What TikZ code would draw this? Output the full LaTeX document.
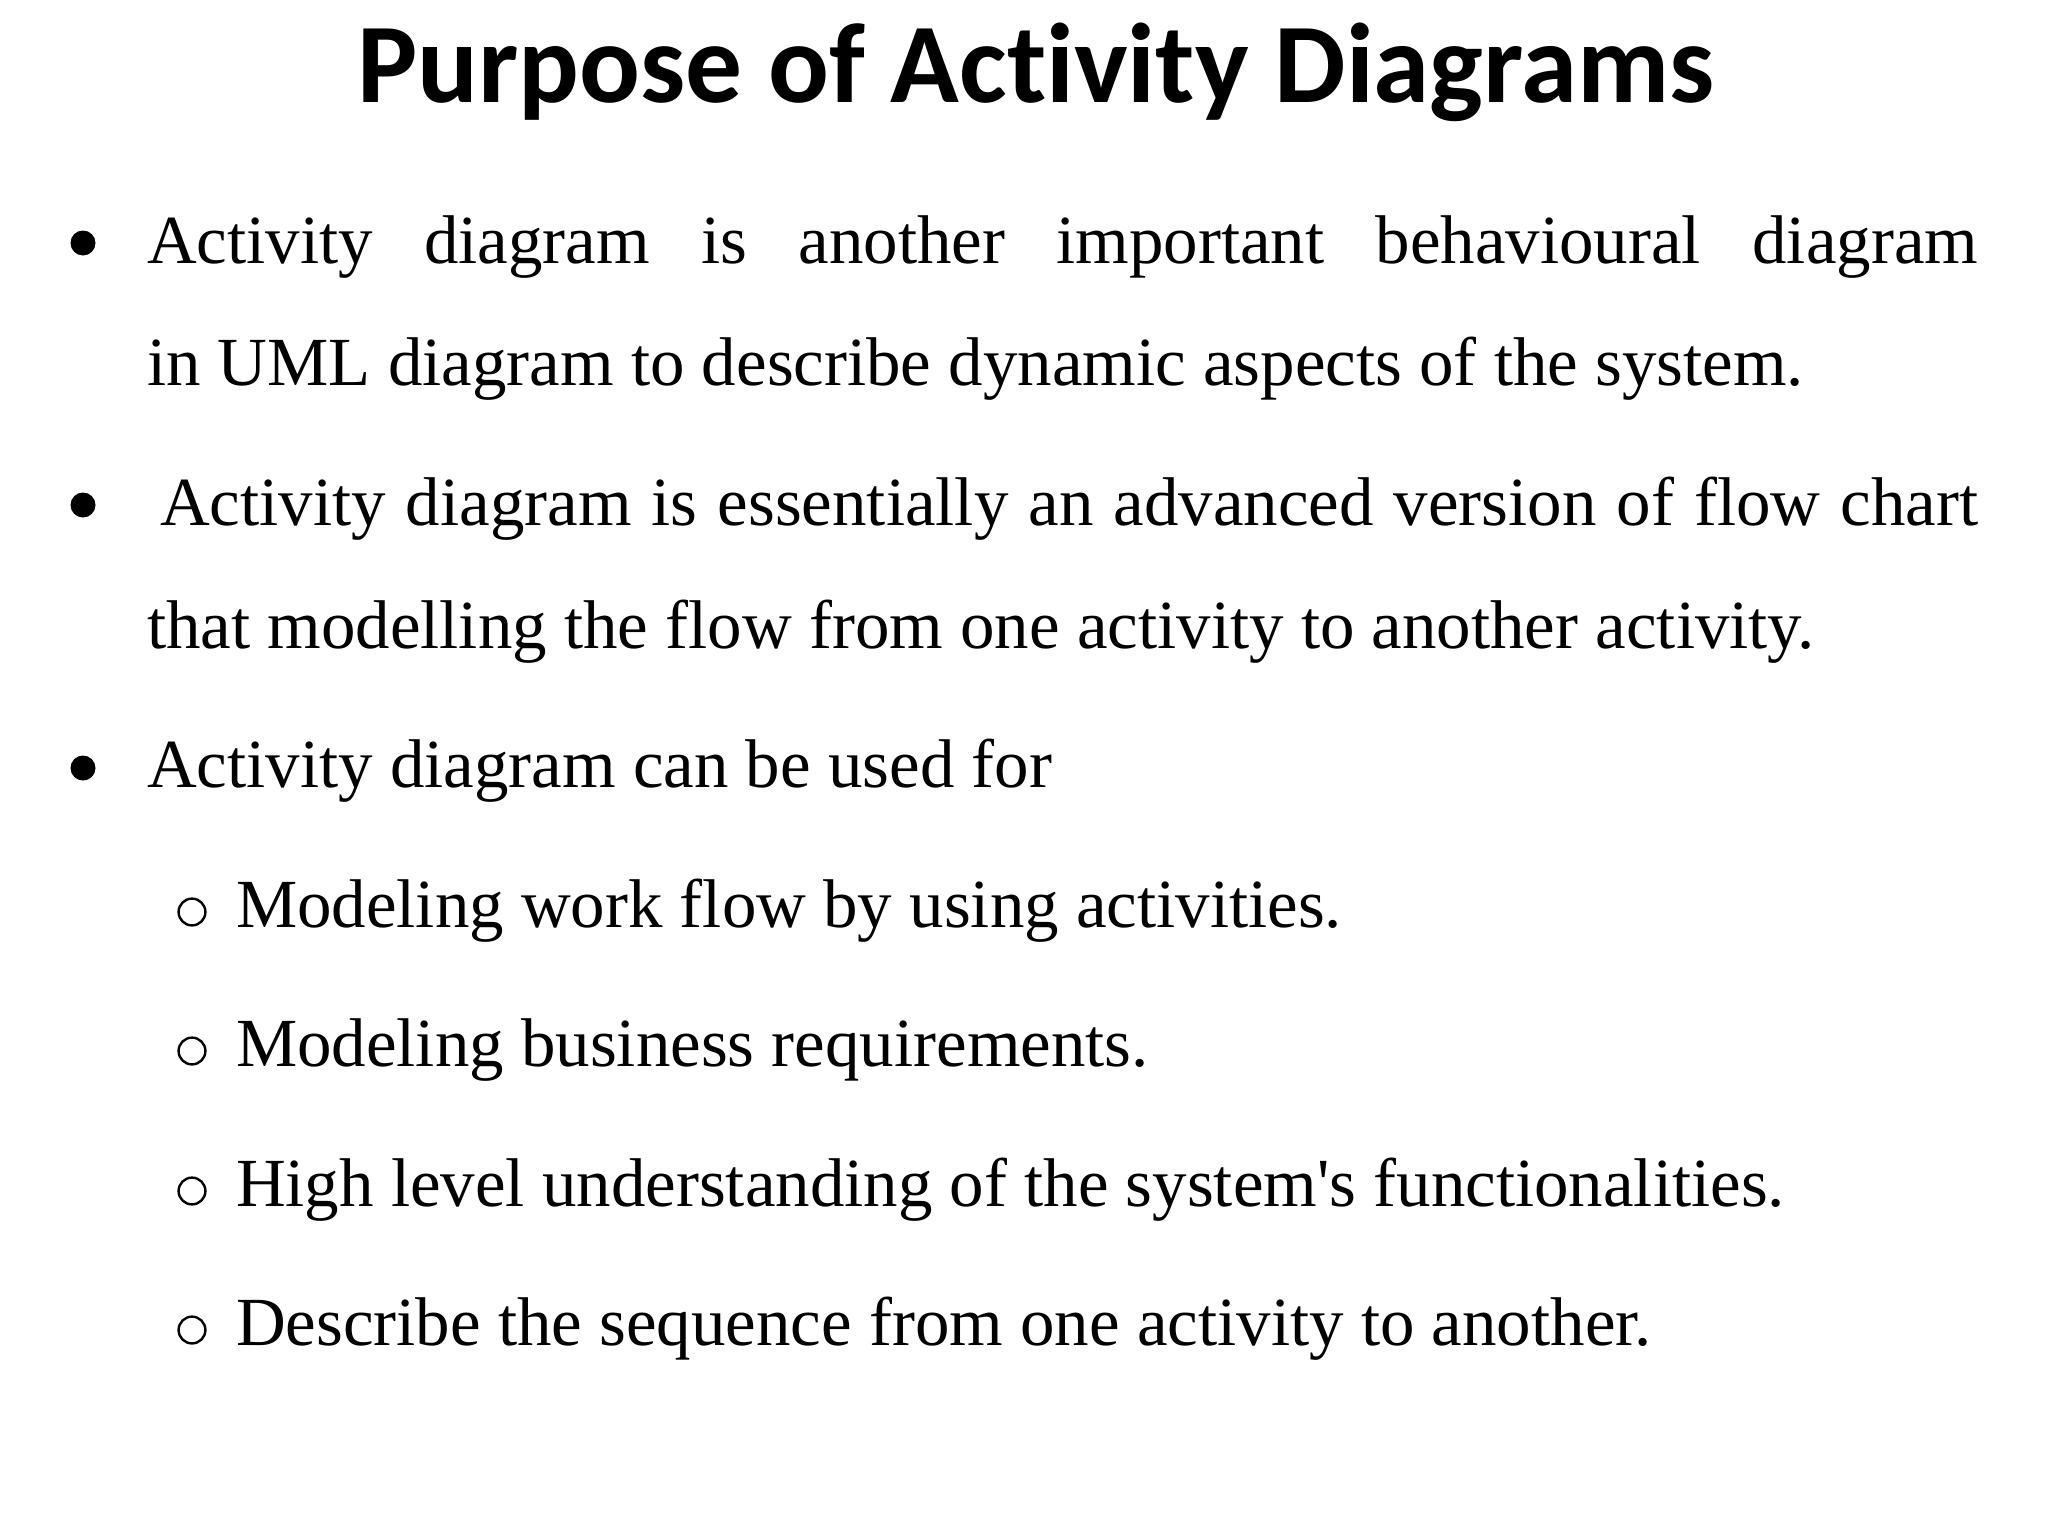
\documentclass[tikz,border=0pt]{standalone}
\usepackage{fontspec}
\newfontfamily\bodyfont[Ligatures=NoCommon]{Liberation Serif}
\newfontfamily\titlefont[Ligatures=NoCommon]{Carlito}
\begin{document}
\begin{tikzpicture}[x=0.5pt,y=-0.5pt,
  body/.style={anchor=base west,inner sep=0pt,outer sep=0pt,font=\bodyfont\fontsize{34.45pt}{40pt}\selectfont},
  dot/.style={circle,fill=black,inner sep=0pt,outer sep=0pt,minimum size=12.5pt},
  ring/.style={circle,draw=black,line width=1.2pt,inner sep=0pt,outer sep=0pt,minimum width=12.6pt,minimum height=13.4pt},
  heading/.style={anchor=base,inner sep=0pt,outer sep=0pt,font=\titlefont\bfseries\fontsize{56.7pt}{60pt}\selectfont}]
\fill[white] (0,0) rectangle (2048,1536);
\useasboundingbox (0,0) rectangle (2048,1536);
\node[heading] (title) at (1036,103) {Purpose of Activity Diagrams};
% bullet 1
\node[dot] (b1) at (83,243) {};
\node[body] (l1) at (147,263) {\makebox[915.5pt][s]{Activity diagram is another important behavioural diagram}};
\node[body] (l2) at (147,385) {in UML diagram to describe dynamic aspects of the system.};
% bullet 2
\node[dot] (b2) at (83,505) {};
\node[body] (l3) at (160,525) {\makebox[909pt][s]{Activity diagram is essentially an advanced version of flow chart}};
\node[body] (l4) at (147,648) {that modelling the flow from one activity to another activity.};
% bullet 3
\node[dot] (b3) at (83,768) {};
\node[body] (l5) at (147,787) {Activity diagram can be used for};
% sub items
\node[ring] (o1) at (192,912) {};
\node[body] (s1) at (236,927) {Modeling work flow by using activities.};
\node[ring] (o2) at (192,1051) {};
\node[body] (s2) at (236,1066) {Modeling business requirements.};
\node[ring] (o3) at (192,1191) {};
\node[body] (s3) at (236,1206) {High level understanding of the system's functionalities.};
\node[ring] (o4) at (192,1330) {};
\node[body] (s4) at (236,1345) {Describe the sequence from one activity to another.};
\end{tikzpicture}
\end{document}
